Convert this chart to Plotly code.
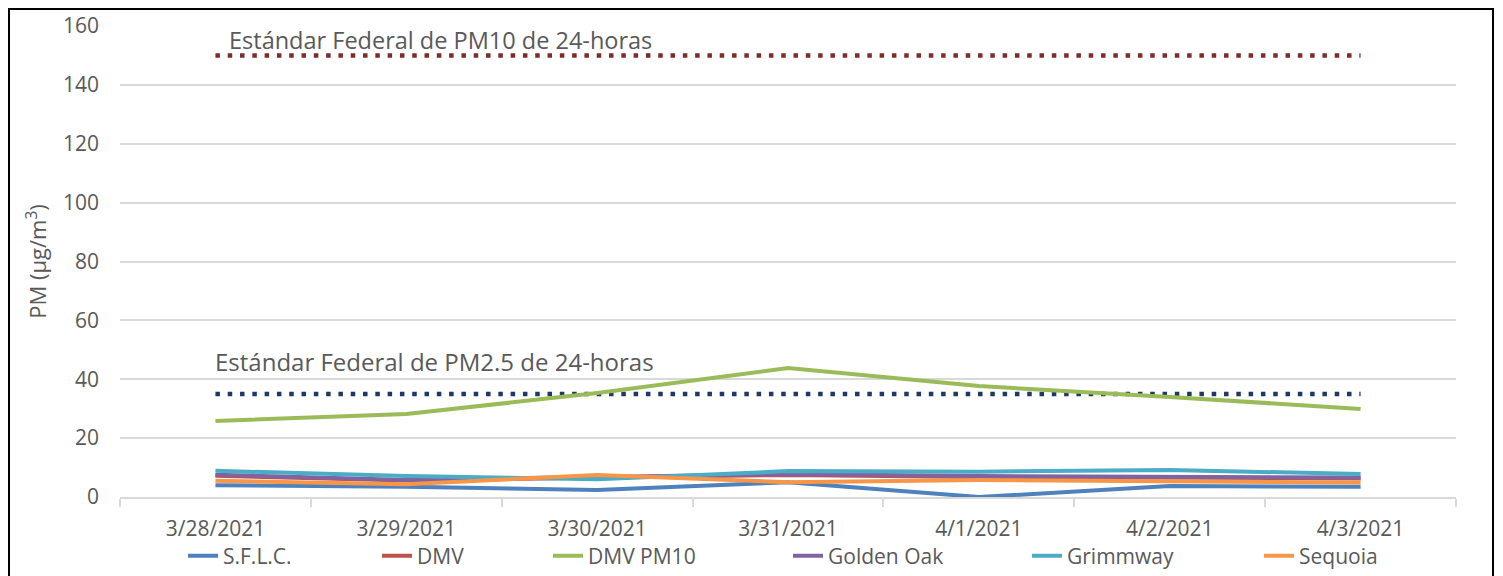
import plotly.graph_objects as go

dates = ["3/28/2021", "3/29/2021", "3/30/2021", "3/31/2021", "4/1/2021", "4/2/2021", "4/3/2021"]
sflc = [4.0, 3.5, 2.4, 5.0, 0.0, 3.7, 3.5]
dmv = [7.2, 5.6, 6.6, 7.5, 6.8, 6.7, 6.3]
dmv_pm10 = [25.8, 28.2, 35.3, 43.8, 37.7, 34.0, 29.9]
golden_oak = [7.6, 5.8, 6.8, 7.8, 7.1, 6.9, 6.6]
grimmway = [8.9, 7.1, 6.0, 8.8, 8.6, 9.2, 7.8]
sequoia = [5.5, 4.3, 7.5, 5.0, 5.8, 5.5, 4.9]
pm10_std = [150] * 7
pm25_std = [35] * 7

series_names = ["S.F.L.C.", "DMV", "DMV PM10", "Golden Oak", "Grimmway", "Sequoia"]
series_values = [sflc, dmv, dmv_pm10, golden_oak, grimmway, sequoia]
series_colors = ["#4F81BD", "#C0504D", "#9BBB59", "#8064A2", "#4BACC6", "#F79646"]
# screen x where each legend label text starts
legend_text_px = [223, 417, 588, 828, 1067, 1299]

FONT = "Open Sans"
GREY = "#595959"
W, H = 1503, 576
OFF = 8  # page body margin of the html page
# plot area in screen pixels: left 120, right 1456, top 26, bottom 497
ML = 120 - OFF
MT = 26 - OFF
MR = W - (1456 - OFF)
MB = H - (497 - OFF)
PW = W - ML - MR
PH = H - MT - MB


def px_x(sx):
    return (sx - OFF - ML) / PW


def px_y(sy):
    return (H - MB - (sy - OFF)) / PH


fig = go.Figure()
fig.add_trace(go.Scatter(x=dates, y=pm10_std, mode="lines", showlegend=False,
                         line=dict(color="#7F2B2B", width=4.5, dash="4.5px,7.8px"), hoverinfo="skip"))
fig.add_trace(go.Scatter(x=dates, y=pm25_std, mode="lines", showlegend=False,
                         line=dict(color="#1F3864", width=4.5, dash="4.5px,7.8px"), hoverinfo="skip"))

legend_layouts = {}
for i, (name, vals, col) in enumerate(zip(series_names, series_values, series_colors)):
    lname = "legend" if i == 0 else f"legend{i + 1}"
    fig.add_trace(go.Scatter(x=dates, y=vals, mode="lines", name=name, legend=lname,
                             line=dict(color=col, width=4)))
    legend_layouts[lname] = dict(
        orientation="h", x=px_x(legend_text_px[i] - 40), xanchor="left",
        y=px_y(556), yanchor="middle",
        font=dict(family=FONT, size=21, color=GREY), bgcolor="rgba(0,0,0,0)",
    )

fig.add_annotation(x=dates[0], y=155.2, xref="x", yref="y", text="Estándar Federal de PM10 de 24-horas",
                   showarrow=False, xanchor="left", yanchor="middle", xshift=12,
                   font=dict(family=FONT, size=23.5, color=GREY))
fig.add_annotation(x=dates[0], y=46.2, xref="x", yref="y", text="Estándar Federal de PM2.5 de 24-horas",
                   showarrow=False, xanchor="left", yanchor="middle", xshift=-2,
                   font=dict(family=FONT, size=24, color=GREY))

fig.add_shape(type="rect", xref="paper", yref="paper",
              x0=(1 - ML) / PW, x1=px_x(1493), y0=-0.3, y1=(H - MB - 1) / PH,
              line=dict(color="black", width=2), fillcolor="rgba(0,0,0,0)", layer="above")

fig.update_layout(
    width=W, height=H,
    margin=dict(l=ML, r=MR, t=MT, b=MB, autoexpand=False),
    paper_bgcolor="white", plot_bgcolor="white",
    font=dict(family=FONT, size=21, color=GREY),
    xaxis=dict(type="category", tickson="boundaries", ticks="outside", ticklen=8,
               tickcolor="#D9D9D9", tickwidth=2, showline=True, linecolor="#D9D9D9", linewidth=2,
               showgrid=False, tickfont=dict(size=21, color=GREY), range=[-0.5, 6.5],
               ticklabelstandoff=12),
    yaxis=dict(range=[0, 160], dtick=20, showgrid=True, gridcolor="#D9D9D9", gridwidth=1.5,
               zeroline=False, showline=False, ticks="", tickfont=dict(size=21, color=GREY),
               ticklabelstandoff=20,
               title=dict(text="PM (µg/m<sup>3</sup>)", font=dict(size=22, color=GREY), standoff=10)),
    **legend_layouts,
)

fig.write_html("out.html")
